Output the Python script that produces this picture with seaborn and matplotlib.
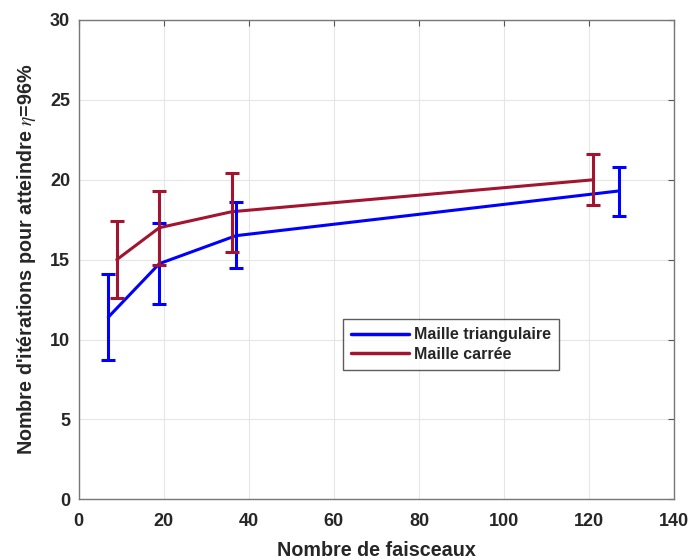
import matplotlib
matplotlib.use("Agg")
import matplotlib.pyplot as plt
import seaborn as sns
import pandas as pd
from matplotlib.lines import Line2D

# Data
tri_x = [7, 19, 37, 127]
tri_y = [11.4, 14.75, 16.5, 19.3]
tri_lo = [8.7, 12.2, 14.45, 17.75]
tri_hi = [14.1, 17.3, 18.6, 20.8]

car_x = [9, 19, 36, 121]
car_y = [15.0, 17.0, 18.0, 20.0]
car_lo = [12.6, 14.65, 15.5, 18.4]
car_hi = [17.4, 19.3, 20.45, 21.6]

series_names = ["Maille triangulaire", "Maille carrée"]
x_ticks = [0, 20, 40, 60, 80, 100, 120, 140]
y_ticks = [0, 5, 10, 15, 20, 25, 30]

sns.set_style("white")
plt.rcParams['font.family'] = ['Liberation Sans', 'DejaVu Sans']
plt.rcParams['mathtext.fontset'] = 'stix'

blue = (0, 0, 1)
red = (0.635, 0.078, 0.184)

df = pd.DataFrame({
    "x": tri_x + car_x,
    "y": tri_y + car_y,
    "serie": [series_names[0]] * len(tri_x) + [series_names[1]] * len(car_x),
})

fig = plt.figure(figsize=(6.91, 5.6), dpi=100)
ax = fig.add_axes([78.5/691, 60.7/560, 595.8/691, 479.3/560])

sns.lineplot(data=df, x="x", y="y", hue="serie", palette=[blue, red],
             linewidth=2.2, ax=ax, legend=False, sort=False)

for xs, ys, lo, hi, c in [(tri_x, tri_y, tri_lo, tri_hi, blue), (car_x, car_y, car_lo, car_hi, red)]:
    yerr = [[y - l for y, l in zip(ys, lo)], [h - y for y, h in zip(ys, hi)]]
    ax.errorbar(xs, ys, yerr=yerr, fmt='none', ecolor=c, elinewidth=2.2,
                capsize=4.8, capthick=2.2, zorder=3)

ax.set_xlim(0, 140)
ax.set_ylim(0, 30)
ax.set_xticks(x_ticks)
ax.set_yticks(y_ticks)
ax.grid(True, color='#e6e6e6', linewidth=0.8)
ax.tick_params(direction='in', length=4, color='#555555', top=True, right=True,
               labelsize=13, labelcolor='#262626')
ax.tick_params(axis='x', pad=10)
ax.tick_params(axis='y', pad=6)
for lab in ax.get_xticklabels() + ax.get_yticklabels():
    lab.set_fontweight('bold')
for s in ax.spines.values():
    s.set_color('#777777')
    s.set_linewidth(1.0)

ax.set_xlabel("Nombre de faisceaux", fontsize=14.2, fontweight='bold', color='#262626', labelpad=8)
ax.set_ylabel("Nombre d'itérations pour atteindre $\\eta$=96%", fontsize=14.2,
              fontweight='bold', color='#262626', labelpad=9)

handles = [Line2D([0], [0], color=blue, lw=2.5), Line2D([0], [0], color=red, lw=2.5)]
leg = ax.legend(handles, series_names, loc='lower left', bbox_to_anchor=(0.4445, 0.2698),
                prop={'weight': 'bold', 'size': 11.5}, frameon=True, fancybox=False,
                edgecolor='#333333', handlelength=3.6, handletextpad=0.35,
                borderpad=0.5, labelspacing=0.3, borderaxespad=0)
leg.get_frame().set_linewidth(1.0)

fig.savefig("out.png", dpi=100)
